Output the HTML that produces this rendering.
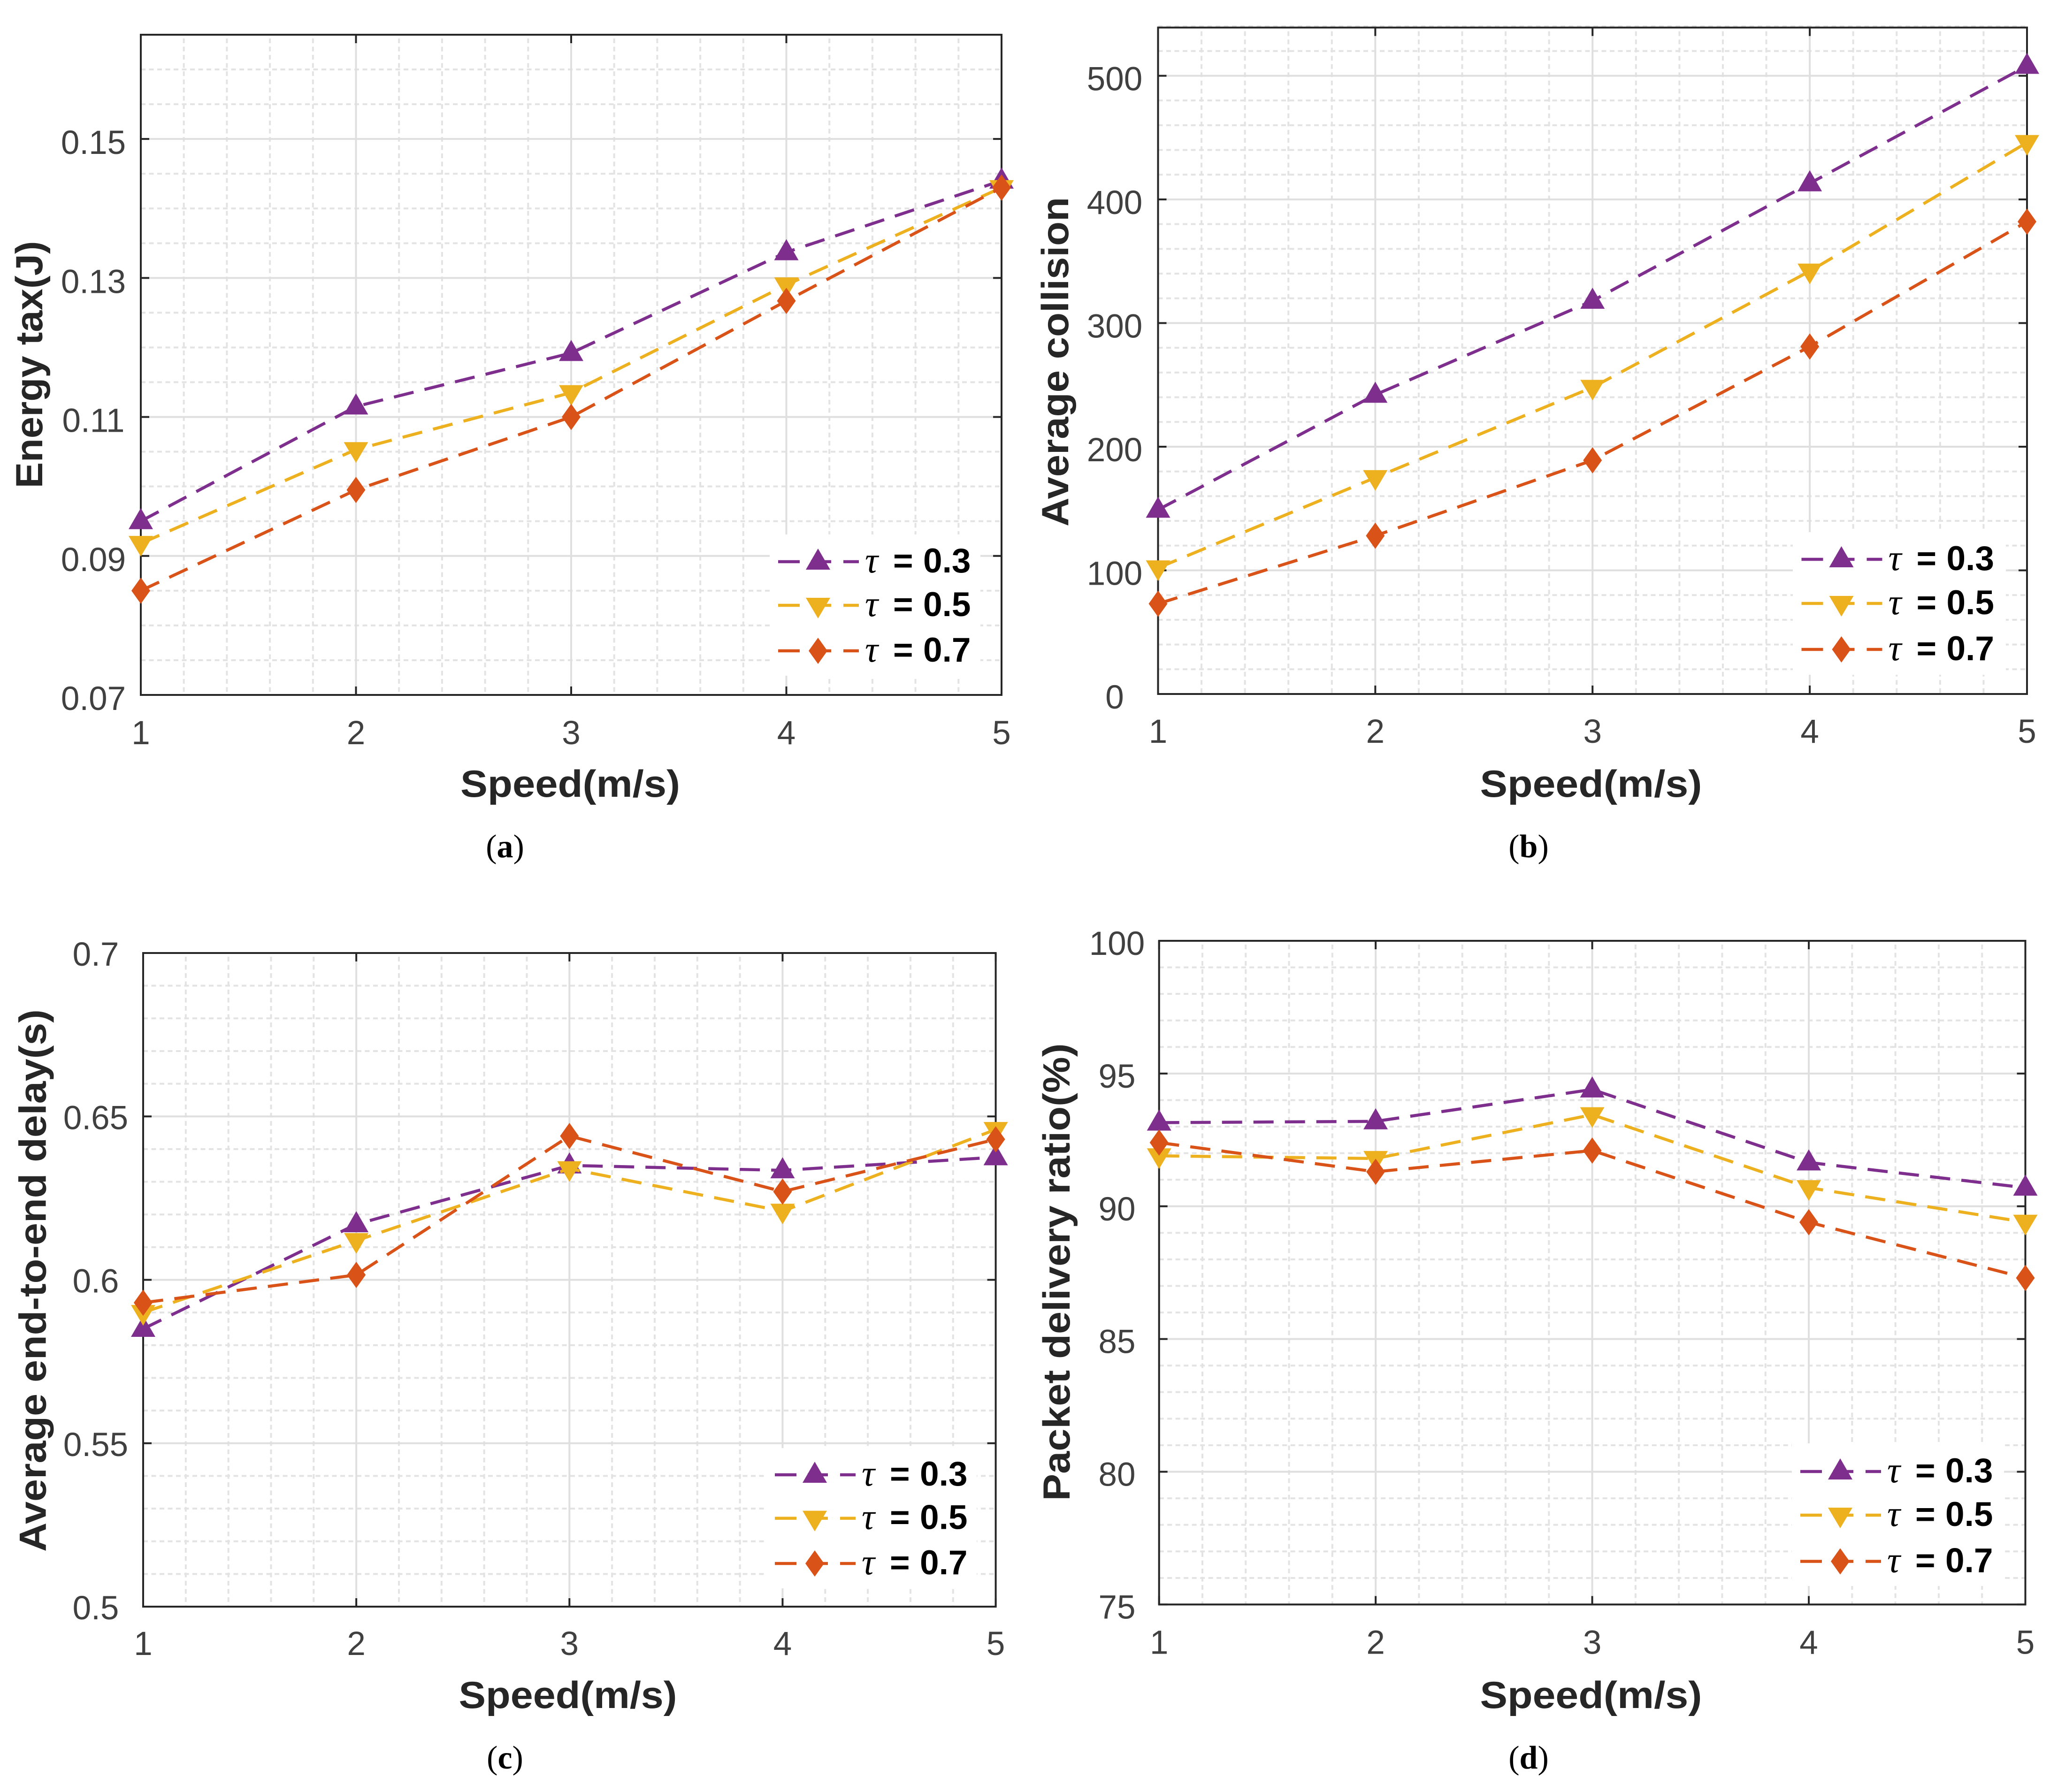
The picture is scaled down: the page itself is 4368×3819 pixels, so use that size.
<!DOCTYPE html>
<html lang="en">
<head>
<meta charset="utf-8">
<title>Speed vs. network metrics</title>
<style>
html,body{margin:0;padding:0;background:#fff;}
svg{display:block;}
.tick{font-family:"Liberation Sans",Arial,sans-serif;font-size:71px;fill:#404040;}
.title{font-family:"Liberation Sans",Arial,sans-serif;font-size:81px;font-weight:bold;fill:#262626;}
.legend-text{font-family:"Liberation Sans",Arial,sans-serif;font-size:73px;font-weight:bold;fill:#000;}
.tau{font-family:"Liberation Serif",serif;font-style:italic;font-size:78px;font-weight:normal;}
.caption{font-family:"Liberation Serif",serif;font-size:70px;fill:#000;}
</style>
</head>
<body>
<svg id="figure" xmlns="http://www.w3.org/2000/svg" width="4368" height="3819" viewBox="0 0 4368 3819">
<rect x="0" y="0" width="4368" height="3819" fill="#ffffff"/>
</svg>
<script>
// ---- shared data ----
const speeds = [1, 2, 3, 4, 5];
const xTickValues = [1, 2, 3, 4, 5];
const xTickLabels = ['1', '2', '3', '4', '5'];
const tauLabels = ['0.3', '0.5', '0.7'];

// ---- panel (a) energy tax ----
const energyTau03 = [0.095, 0.1115, 0.1192, 0.1337, 0.144];
const energyTau05 = [0.0918, 0.1053, 0.1135, 0.129, 0.143];
const energyTau07 = [0.085, 0.0995, 0.110, 0.1267, 0.143];
const energyTicks = [0.07, 0.09, 0.11, 0.13, 0.15];
const energyTickLabels = ['0.07', '0.09', '0.11', '0.13', '0.15'];

// ---- panel (b) average collision ----
const collisionTau03 = [149, 242, 318, 413, 508];
const collisionTau05 = [102, 175, 248, 342, 446];
const collisionTau07 = [73, 128, 189, 281, 382];
const collisionTicks = [0, 100, 200, 300, 400, 500];
const collisionTickLabels = ['0', '100', '200', '300', '400', '500'];

// ---- panel (c) average end-to-end delay ----
const delayTau03 = [0.585, 0.617, 0.635, 0.6335, 0.6375];
const delayTau05 = [0.59, 0.612, 0.634, 0.621, 0.646];
const delayTau07 = [0.593, 0.6015, 0.644, 0.627, 0.643];
const delayTicks = [0.5, 0.55, 0.6, 0.65, 0.7];
const delayTickLabels = ['0.5', '0.55', '0.6', '0.65', '0.7'];

// ---- panel (d) packet delivery ratio ----
const deliveryTau03 = [93.15, 93.2, 94.4, 91.65, 90.7];
const deliveryTau05 = [91.9, 91.8, 93.45, 90.7, 89.4];
const deliveryTau07 = [92.4, 91.3, 92.1, 89.4, 87.3];
const deliveryTicks = [75, 80, 85, 90, 95, 100];
const deliveryTickLabels = ['75', '80', '85', '90', '95', '100'];

const seriesColors = ['#7E2F8E', '#EDB120', '#D95319'];
const markerKinds = ['up', 'down', 'diamond'];

const panels = [
  { id: 'a', caption: 'a', yTitle: 'Energy tax(J)',
    series: [energyTau03, energyTau05, energyTau07], ticks: energyTicks, tickLabels: energyTickLabels,
    yMin: 0.07, yMax: 0.165, minorStep: 0.005, xMin: 1, xMax: 5,
    box: { l: 300, r: 2134, t: 74, b: 1481 },
    tickCx: 199, tickDy: 32, xLabelDy: 105,
    yTitleBox: { x: 90, c: 777, len: 527 }, xTitleBox: { c: 1215, y: 1698, len: 468 },
    capBox: { x: 1076, y: 1827 },
    legendBox: { x: 1640, y: 1139, w: 449, h: 301 }, legendX: 1658, legendRows: [1197, 1290, 1387] },
  { id: 'b', caption: 'b', yTitle: 'Average collision',
    series: [collisionTau03, collisionTau05, collisionTau07], ticks: collisionTicks, tickLabels: collisionTickLabels,
    yMin: 0, yMax: 539, minorStep: 20, xMin: 1, xMax: 5,
    box: { l: 2467.5, r: 4319, t: 58.7, b: 1479 },
    tickCx: 2375, tickDy: 31, xLabelDy: 104,
    yTitleBox: { x: 2276, c: 771, len: 702 }, xTitleBox: { c: 3390, y: 1698, len: 473 },
    capBox: { x: 3257, y: 1827 },
    legendBox: { x: 3820, y: 1134, w: 454, h: 304 }, legendX: 3838.5, legendRows: [1192, 1286, 1384] },
  { id: 'c', caption: 'c', yTitle: 'Average end-to-end delay(s)',
    series: [delayTau03, delayTau05, delayTau07], ticks: delayTicks, tickLabels: delayTickLabels,
    yMin: 0.5, yMax: 0.7, minorStep: 0.01, xMin: 1, xMax: 5,
    box: { l: 305, r: 2121.6, t: 2031, b: 3424 },
    tickCx: 204, tickDy: 27, xLabelDy: 103,
    yTitleBox: { x: 97.6, c: 2729, len: 1156 }, xTitleBox: { c: 1210, y: 3640, len: 465 },
    capBox: { x: 1076, y: 3769 },
    legendBox: { x: 1632.5, y: 3086, w: 448.5, h: 299 }, legendX: 1651, legendRows: [3143, 3235.6, 3332] },
  { id: 'd', caption: 'd', yTitle: 'Packet delivery ratio(%)',
    series: [deliveryTau03, deliveryTau05, deliveryTau07], ticks: deliveryTicks, tickLabels: deliveryTickLabels,
    yMin: 75, yMax: 100, minorStep: 1, xMin: 1, xMax: 5,
    box: { l: 2469.7, r: 4315.5, t: 2005, b: 3419.4 },
    tickCx: 2380, tickDy: 30, xLabelDy: 105,
    yTitleBox: { x: 2279, c: 2711, len: 975 }, xTitleBox: { c: 3390, y: 3640, len: 473 },
    capBox: { x: 3257, y: 3769 },
    legendBox: { x: 3818, y: 3076, w: 452, h: 304 }, legendX: 3836, legendRows: [3136, 3229, 3327.5] }
];

const NS = 'http://www.w3.org/2000/svg';
const figure = document.getElementById('figure');

function make(tag, attrs, parent, text) {
  const node = document.createElementNS(NS, tag);
  for (const k in attrs) node.setAttribute(k, attrs[k]);
  if (text !== undefined) node.textContent = text;
  parent.appendChild(node);
  return node;
}

function markerPoints(kind, cx, cy) {
  let pts;
  if (kind === 'up') pts = [[0, -28], [26, 17], [-26, 17]];
  else if (kind === 'down') pts = [[0, 28], [26, -16], [-26, -16]];
  else pts = [[0, -28], [20, 0], [0, 28], [-20, 0]];
  return pts.map(function (p) { return (cx + p[0]) + ',' + (cy + p[1]); }).join(' ');
}

function drawPanel(p) {
  const b = p.box;
  const xScale = function (v) { return b.l + (v - p.xMin) / (p.xMax - p.xMin) * (b.r - b.l); };
  const yScale = function (v) { return b.b - (v - p.yMin) / (p.yMax - p.yMin) * (b.b - b.t); };

  const g = make('g', {}, figure);
  
  

  // minor grid
  const minorGroup = make('g', { stroke: '#e3e3e3', 'stroke-width': 4, 'stroke-dasharray': '10 7.5', fill: 'none' }, g);
  
  
  const nY = Math.round((p.yMax - p.yMin) / p.minorStep);
  for (let i = 1; i <= nY; i++) {
    const v = p.yMin + i * p.minorStep;
    if (p.ticks.some(function (t) { return Math.abs(t - v) < p.minorStep / 10; })) continue;
    const yy = yScale(v);
    const ml = make('line', { x1: b.l, x2: b.r, y1: yy, y2: yy }, minorGroup);
    
    
  }
  for (let u = p.xMin; u < p.xMax; u++) {
    for (let k = 1; k < 5; k++) {
      const xx = xScale(u + k * 0.2);
      const mv = make('line', { x1: xx, x2: xx, y1: b.t + 8, y2: b.b }, minorGroup);
      
      
    }
  }

  // major grid
  const majorGroup = make('g', { stroke: '#dfdfdf', 'stroke-width': 4, fill: 'none' }, g);
  
  
  p.ticks.forEach(function (t) {
    const yy = yScale(t);
    const gl = make('line', { x1: b.l, x2: b.r, y1: yy, y2: yy }, majorGroup);
    
    
  });
  xTickValues.forEach(function (t) {
    const xx = xScale(t);
    const gl = make('line', { x1: xx, x2: xx, y1: b.t, y2: b.b }, majorGroup);
    
    
  });

  // legend background (hides the grid, sits below the series)
  const lb = p.legendBox;
  const legendBg = make('rect', { x: lb.x, y: lb.y, width: lb.w, height: lb.h, fill: '#ffffff' }, g);
  
  

  // axes box and ticks
  const axisGroup = make('g', { stroke: '#262626', 'stroke-width': 4, fill: 'none' }, g);
  
  
  const frame = make('rect', { x: b.l, y: b.t, width: b.r - b.l, height: b.b - b.t }, axisGroup);
  
  
  p.ticks.forEach(function (t) {
    const yy = yScale(t);
    const tl = make('line', { x1: b.l, x2: b.l + 18, y1: yy, y2: yy }, axisGroup);
    
    
    const tr = make('line', { x1: b.r - 18, x2: b.r, y1: yy, y2: yy }, axisGroup);
    
    
  });
  xTickValues.forEach(function (t) {
    const xx = xScale(t);
    const tb = make('line', { x1: xx, x2: xx, y1: b.b - 18, y2: b.b }, axisGroup);
    
    
    const tt = make('line', { x1: xx, x2: xx, y1: b.t, y2: b.t + 18 }, axisGroup);
    
    
  });

  // tick labels
  p.ticks.forEach(function (t, i) {
    const lab = make('text', { x: p.tickCx, y: yScale(t) + p.tickDy, 'text-anchor': 'middle', class: 'tick' }, g, p.tickLabels[i]);
    
    
  });
  xTickValues.forEach(function (t, i) {
    const lab = make('text', { x: xScale(t), y: b.b + p.xLabelDy, 'text-anchor': 'middle', class: 'tick' }, g, xTickLabels[i]);
    
    
  });

  // axis titles
  const yt = p.yTitleBox;
  const yTitle = make('text', {
    x: yt.x, y: yt.c, 'text-anchor': 'middle', class: 'title',
    transform: 'rotate(-90 ' + yt.x + ' ' + yt.c + ')',
    textLength: yt.len, lengthAdjust: 'spacingAndGlyphs'
  }, g, p.yTitle);
  
  
  const xt = p.xTitleBox;
  const xTitle = make('text', {
    x: xt.c, y: xt.y, 'text-anchor': 'middle', class: 'title',
    textLength: xt.len, lengthAdjust: 'spacingAndGlyphs'
  }, g, 'Speed(m/s)');
  
  

  // series
  p.series.forEach(function (vals, s) {
    const sg = make('g', {}, g);
    
    
    const pts = speeds.map(function (sp, i) { return xScale(sp) + ',' + yScale(vals[i]); }).join(' ');
    const line = make('polyline', {
      points: pts, fill: 'none', stroke: seriesColors[s], 'stroke-width': 6.5, 'stroke-dasharray': '43 24'
    }, sg);
    
    
    speeds.forEach(function (sp, i) {
      const m = make('polygon', {
        points: markerPoints(markerKinds[s], xScale(sp), yScale(vals[i])), fill: seriesColors[s]
      }, sg);
      
      
    });
  });

  // legend
  const lg = make('g', {}, g);
  
  
  tauLabels.forEach(function (lab, s) {
    const ry = p.legendRows[s];
    const x0 = p.legendX;
    const entry = make('g', {}, lg);
    
    
    [[0, 46], [70, 113], [139, 172]].forEach(function (seg) {
      const d = make('line', { x1: x0 + seg[0], x2: x0 + seg[1], y1: ry, y2: ry, stroke: seriesColors[s], 'stroke-width': 6.5 }, entry);
      
      
    });
    const mk = make('polygon', { points: markerPoints(markerKinds[s], x0 + 85, ry), fill: seriesColors[s] }, entry);
    
    
    const tx = make('text', { y: ry + 23, class: 'legend-text' }, entry);
    
    
    make('tspan', { x: x0 + 185, class: 'tau' }, tx, '\u03C4');
    make('tspan', { x: x0 + 245 }, tx, '=');
    make('tspan', { x: x0 + 309 }, tx, lab);
  });

  // caption
  const cap = make('text', { x: p.capBox.x, y: p.capBox.y, 'text-anchor': 'middle', class: 'caption' }, g);
  
  
  make('tspan', {}, cap, '(');
  make('tspan', { 'font-weight': 'bold' }, cap, p.caption);
  make('tspan', {}, cap, ')');
}

panels.forEach(drawPanel);
</script>
</body>
</html>
